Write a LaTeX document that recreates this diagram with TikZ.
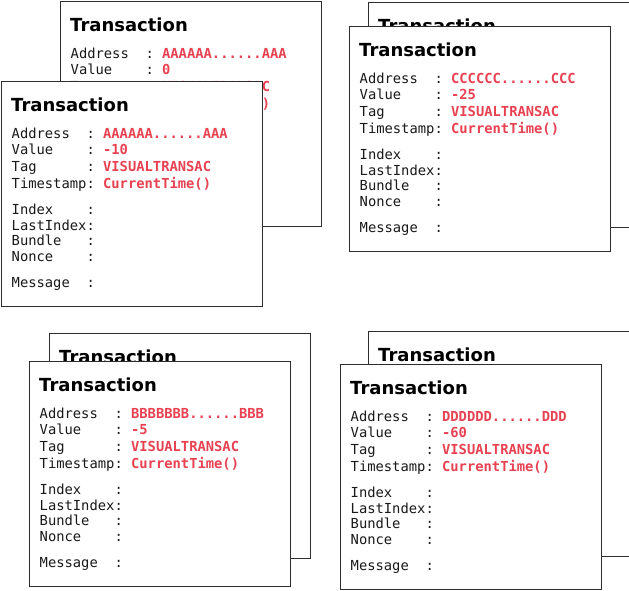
\documentclass[tikz,border=0pt]{standalone}
\usepackage{fontspec}
\setmainfont{DejaVu Sans}
\newfontfamily\monof{DejaVu Sans Mono}
\usetikzlibrary{calc}
\definecolor{fieldred}{RGB}{232,66,82}
\definecolor{ink}{RGB}{25,25,25}
\definecolor{edge}{RGB}{45,45,45}
\tikzset{
  txbox/.style={draw=edge, line width=1.3pt, fill=white, minimum width=261pt,
    minimum height=225pt, inner sep=0pt, anchor=north west},
  ttl/.style={font=\fontsize{18}{20}\selectfont\bfseries, text=black, inner sep=0pt, anchor=base west},
  key/.style={font=\monof\fontsize{13.8}{16}\selectfont, text=ink, inner sep=0pt, anchor=base west},
  val/.style={font=\monof\fontsize{13.8}{16}\selectfont\bfseries, text=fieldred, inner sep=0pt, anchor=base west},
}
% box name, row id, y offset, label, value
\newcommand\txrow[5]{%
  \node[key] (#1-#2-k) at ($(#1.north west)+(10.5,#3)$) {#4};
  \node[key] (#1-#2-c) at ($(#1.north west)+(85.3,#3)$) {:};
  \node[val] (#1-#2-v) at ($(#1.north west)+(101.9,#3)$) {#5};
}
% box name, row id, y offset, label
\newcommand\txkey[4]{%
  \node[key] (#1-#2-k) at ($(#1.north west)+(10.5,#3)$) {#4};
  \node[key] (#1-#2-c) at ($(#1.north west)+(85.3,#3)$) {:};
}
\newcommand\txtitle[1]{%
  \node[ttl] (#1-title) at ($(#1.north west)+(10,30.5)$) {Transaction};
}
% name, x, y, address, value
\newcommand\txfull[5]{%
  \node[txbox] (#1) at (#2,#3) {};
  \txtitle{#1}
  \txrow{#1}{addr}{57}{Address}{#4}
  \txrow{#1}{val}{73.5}{Value}{#5}
  \txrow{#1}{tag}{90}{Tag}{VISUALTRANSAC}
  \node[key] (#1-ts-k) at ($(#1.north west)+(10.5,107)$) {Timestamp};
  \node[key] (#1-ts-c) at ($(#1.north west)+(85.3,107)$) {:};
  \node[val] (#1-ts-v) at ($(#1.north west)+(101.9,107)$) {CurrentTime()};
  \txkey{#1}{idx}{133}{Index}
  \txkey{#1}{lidx}{149}{LastIndex}
  \txkey{#1}{bun}{164.5}{Bundle}
  \txkey{#1}{non}{180}{Nonce}
  \txkey{#1}{msg}{206}{Message}
}
\begin{document}
\begin{tikzpicture}[x=1pt,y=-1pt]
  \useasboundingbox (0,0) rectangle (629,590);
  % top-left pair
  \node[txbox] (tlb) at (60,1) {};
  \txtitle{tlb}
  \txrow{tlb}{addr}{57}{Address}{AAAAAA......AAA}
  \txrow{tlb}{val}{73.5}{Value}{0}
  \txrow{tlb}{tag}{90}{Tag}{VISUALTRANSAC}
  \node[key] (tlb-ts-k) at ($(tlb.north west)+(10.5,107)$) {Timestamp};
  \node[key] (tlb-ts-c) at ($(tlb.north west)+(85.3,107)$) {:};
  \node[val] (tlb-ts-v) at ($(tlb.north west)+(101.9,107)$) {CurrentTime()};
  \txfull{tlf}{1}{81}{AAAAAA......AAA}{-10}
  % top-right pair
  \node[txbox] (trb) at (368,2) {};
  \txtitle{trb}
  \txfull{trf}{349}{26}{CCCCCC......CCC}{-25}
  % bottom-left pair
  \node[txbox] (blb) at (49,333) {};
  \txtitle{blb}
  \txfull{blf}{29}{361}{BBBBBBB......BBB}{-5}
  % bottom-right pair
  \node[txbox] (brb) at (368,331) {};
  \txtitle{brb}
  \txfull{brf}{340}{364}{DDDDDD......DDD}{-60}
\end{tikzpicture}
\end{document}
